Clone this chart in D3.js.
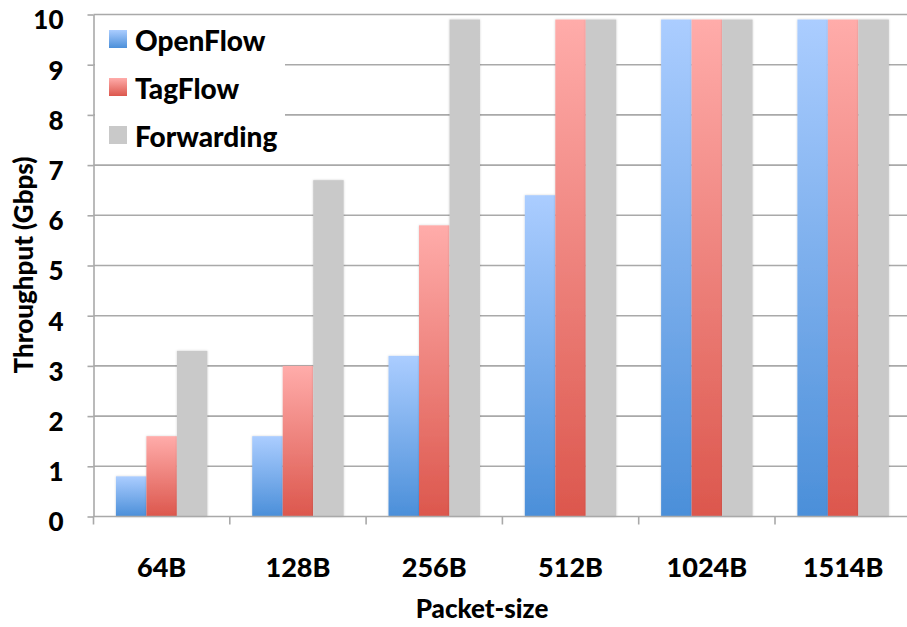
<!DOCTYPE html>
<html>
<head>
<meta charset="utf-8">
<script src="https://cdn.jsdelivr.net/npm/d3@7"></script>
<style>
  html, body { margin: 0; padding: 0; background: #fff; }
  svg { display: block; overflow: hidden; }
  text { font-family: Lato, "Open Sans", sans-serif; font-weight: 900; fill: #000; }
</style>
</head>
<body>
<svg id="chart" width="907" height="627"></svg>
<script>
// Throughput per packet size for three switching schemes
const categories = ["64B", "128B", "256B", "512B", "1024B", "1514B"];
const seriesNames = ["OpenFlow", "TagFlow", "Forwarding"];
const openflow   = [0.8, 1.6, 3.2, 6.4, 9.9, 9.9];
const tagflow    = [1.6, 3.0, 5.8, 9.9, 9.9, 9.9];
const forwarding = [3.3, 6.7, 9.9, 9.9, 9.9, 9.9];
const yTicks = [0, 1, 2, 3, 4, 5, 6, 7, 8, 9, 10];

const seriesValues = [openflow, tagflow, forwarding];
const palette = {
  OpenFlow:   { top: "#abcdff", bottom: "#4b8fd9" },
  TagFlow:    { top: "#ffacaa", bottom: "#dc574d" },
  Forwarding: { top: "#c9c9c9", bottom: "#c9c9c9" }
};

const svg = d3.select("#chart");
const plot = { left: 93.5, right: 911.3, top: 14.5, bottom: 516.5 };

const x0 = d3.scaleBand().domain(categories).range([plot.left, plot.right]).padding(0);
const x1 = d3.scaleBand().domain(seriesNames).range([0, x0.step()]).paddingInner(0).paddingOuter(0.735);
const y = d3.scaleLinear().domain([0, 10]).range([plot.bottom, plot.top]);

// vertical gradients for the bar fills
const defs = svg.append("defs");
seriesNames.forEach((name, i) => {
  const g = defs.append("linearGradient").attr("id", "grad" + i)
    .attr("x1", 0).attr("y1", 0).attr("x2", 0).attr("y2", 1);
  g.append("stop").attr("offset", "0%").attr("stop-color", palette[name].top);
  g.append("stop").attr("offset", "100%").attr("stop-color", palette[name].bottom);
});
const shadow = defs.append("filter").attr("id", "barShadow")
  .attr("x", "-20%").attr("y", "-5%").attr("width", "140%").attr("height", "110%");
shadow.append("feDropShadow").attr("dx", 0).attr("dy", 0).attr("stdDeviation", 1.2)
  .attr("flood-color", "#000").attr("flood-opacity", 0.18);

// horizontal gridlines
svg.append("g").selectAll("line").data(yTicks.filter(d => d > 0)).join("line")
  .attr("x1", plot.left).attr("x2", plot.right)
  .attr("y1", d => y(d)).attr("y2", d => y(d))
  .attr("stroke", "#a9a9a9").attr("stroke-width", 1.6);

// bars
const rows = categories.map((c, i) => ({ c, vals: seriesNames.map((s, k) => ({ s, k, v: seriesValues[k][i] })) }));
svg.append("g").selectAll("g").data(rows).join("g")
  .attr("transform", d => `translate(${x0(d.c)},0)`)
  .selectAll("rect").data(d => d.vals).join("rect")
  .attr("x", d => x1(d.s))
  .attr("y", d => y(d.v))
  .attr("width", x1.bandwidth())
  .attr("height", d => y(0) - y(d.v))
  .attr("fill", d => `url(#grad${d.k})`)
  .attr("filter", "url(#barShadow)");

// y axis
const yAxis = svg.append("g").attr("transform", `translate(${plot.left},0)`)
  .call(d3.axisLeft(y).tickValues(yTicks).tickSize(6).tickPadding(24).tickSizeOuter(0));
yAxis.select(".domain").attr("stroke", "#a9a9a9").attr("stroke-width", 1.6);
yAxis.selectAll(".tick line").attr("stroke", "#a9a9a9").attr("stroke-width", 1.6);
yAxis.selectAll(".tick text").style("font-size", "26px").attr("dy", "0.55em")
  .style("font-family", "Lato, sans-serif").style("font-weight", "900").attr("fill", "#000");

// x axis line with ticks at category boundaries
svg.append("line").attr("x1", plot.left).attr("x2", plot.right)
  .attr("y1", plot.bottom).attr("y2", plot.bottom)
  .attr("stroke", "#a9a9a9").attr("stroke-width", 1.6);
svg.append("g").selectAll("line").data(categories).join("line")
  .attr("x1", d => x0(d)).attr("x2", d => x0(d))
  .attr("y1", plot.bottom).attr("y2", plot.bottom + 8)
  .attr("stroke", "#a9a9a9").attr("stroke-width", 1.6);
svg.append("g").selectAll("text").data(categories).join("text")
  .attr("x", d => x0(d) + x0.bandwidth() / 2).attr("y", 577)
  .attr("text-anchor", "middle").style("font-size", "27px").text(d => d);

// axis titles
svg.append("text").attr("x", 482).attr("y", 618).attr("text-anchor", "middle")
  .style("font-size", "26px").text("Packet-size");
svg.append("text").attr("transform", "translate(33,265) rotate(-90)")
  .attr("text-anchor", "middle").style("font-size", "26px").text("Throughput (Gbps)");

// legend
const legend = svg.append("g");
legend.append("rect").attr("x", 95).attr("y", 16).attr("width", 190).attr("height", 140).attr("fill", "#fff");
const items = legend.selectAll("g").data(seriesNames).join("g")
  .attr("transform", (d, i) => `translate(109,${30 + i * 48})`);
items.append("rect").attr("width", 18).attr("height", 18)
  .attr("fill", (d, i) => `url(#grad${i})`);
items.append("text").attr("x", 26).attr("y", 21).style("font-size", "28px").text(d => d);
</script>
</body>
</html>
